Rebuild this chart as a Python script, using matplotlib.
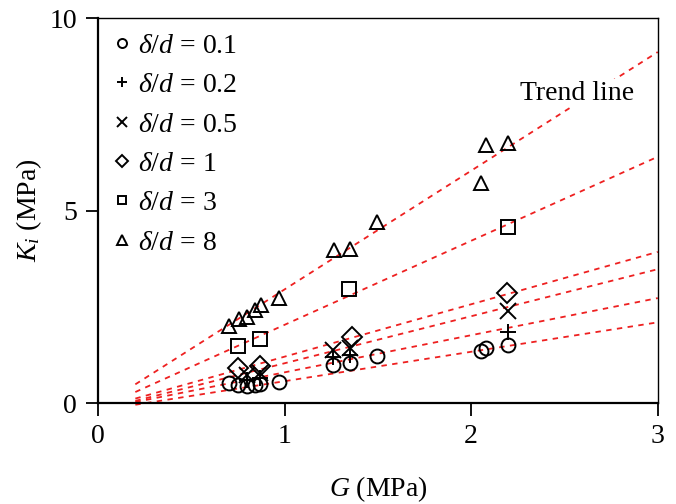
import matplotlib
matplotlib.use("Agg")
import matplotlib.pyplot as plt
import numpy as np

plt.rcParams['font.family'] = 'Liberation Serif'
plt.rcParams['mathtext.fontset'] = 'custom'
plt.rcParams['mathtext.rm'] = 'Liberation Serif'
plt.rcParams['mathtext.it'] = 'Liberation Serif:italic'
plt.rcParams['font.size'] = 20

# data, G (MPa) vs K_i (MPa)
labels = [r'$\delta/d$ = 0.1', r'$\delta/d$ = 0.2', r'$\delta/d$ = 0.5',
          r'$\delta/d$ = 1', r'$\delta/d$ = 3', r'$\delta/d$ = 8']
markers = ['o', '+', 'x', 'D', 's', '^']
msizes = [10, 12, 11, 10, 9.5, 10]

G_01 = [0.70, 0.75, 0.80, 0.84, 0.87, 0.97, 1.26, 1.35, 1.495, 2.05, 2.08, 2.20]
K_01 = [0.52, 0.47, 0.44, 0.47, 0.50, 0.55, 0.99, 1.04, 1.22, 1.35, 1.43, 1.50]
G_02 = [0.80, 0.87, 1.26, 1.35, 2.20]
K_02 = [0.60, 0.66, 1.19, 1.25, 1.84]
G_05 = [0.80, 0.87, 1.26, 1.35, 2.20]
K_05 = [0.72, 0.78, 1.38, 1.43, 2.39]
G_1 = [0.75, 0.87, 1.36, 2.19]
K_1 = [0.91, 0.96, 1.71, 2.85]
G_3 = [0.75, 0.87, 1.345, 2.20]
K_3 = [1.48, 1.66, 2.96, 4.57]
G_8 = [0.70, 0.756, 0.80, 0.84, 0.873, 0.97, 1.264, 1.35, 1.495, 2.05, 2.08, 2.197]
K_8 = [2.00, 2.18, 2.24, 2.42, 2.55, 2.72, 3.97, 4.00, 4.70, 5.71, 6.70, 6.75]

G_series = [G_01, G_02, G_05, G_1, G_3, G_8]
K_series = [K_01, K_02, K_05, K_1, K_3, K_8]

# trend lines: K at G = 0.2 and at G = 3
trend_G = [0.2, 3.0]
trend_start = [-0.04, 0.03, 0.06, 0.12, 0.29, 0.49]
trend_end = [2.10, 2.73, 3.48, 3.93, 6.40, 9.12]

fig = plt.figure(figsize=(6.76, 5.04), dpi=100)
ax = fig.add_axes([0.145, 0.2, 0.828, 0.764])

for k0, k1 in zip(trend_start, trend_end):
    ax.plot(trend_G, [k0, k1], color='#ee2020', linestyle=(0, (3, 3)),
            linewidth=1.3, zorder=1, clip_on=False)

for g, k, m, ms, lab in zip(G_series, K_series, markers, msizes, labels):
    if m in ['+', 'x']:
        ax.plot(g, k, linestyle='none', marker=m, markersize=ms, color='black',
                markeredgewidth=1.4, label=lab, zorder=3)
    else:
        ax.plot(g, k, linestyle='none', marker=m, markersize=ms,
                markerfacecolor='none', markeredgecolor='black',
                markeredgewidth=1.4, label=lab, zorder=3)

ax.text(2.57, 8.05, 'Trend line', ha='center', va='center', fontsize=20,
        bbox=dict(facecolor='white', edgecolor='none', pad=1), zorder=2)

ax.set_xlim(0, 3)
ax.set_ylim(0, 10)
ax.set_xticks([0, 1, 2, 3])
ax.set_yticks([0, 5, 10])
ax.tick_params(direction='out', length=9, width=1.3, labelsize=20, pad=6)
for s in ['left', 'bottom']:
    ax.spines[s].set_linewidth(1.6)
for s in ['top', 'right']:
    ax.spines[s].set_linewidth(1.0)

ax.set_xlabel(r'$G$ (MPa)', fontsize=20, labelpad=18)
ax.set_ylabel(r'$K_i$ (MPa)', fontsize=20, labelpad=4)

ax.legend(loc='upper left', frameon=False, markerscale=0.65, fontsize=20,
          handlelength=0.6, handletextpad=0.3, labelspacing=0.5,
          borderaxespad=0.25, borderpad=0.3)

fig.savefig('out.png', dpi=100)
